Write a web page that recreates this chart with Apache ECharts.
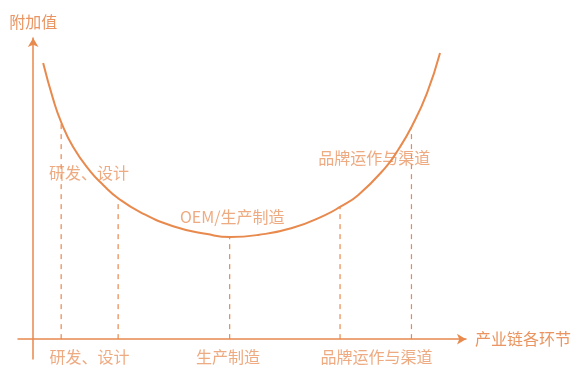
<!DOCTYPE html>
<html>
<head>
<meta charset="utf-8">
<script src="https://cdn.jsdelivr.net/npm/echarts@6/dist/echarts.min.js"></script>
<style>
  html, body { margin: 0; padding: 0; background: #ffffff; }
  #chart { width: 574px; height: 369px; }
</style>
</head>
<body>
<div id="chart"></div>
<script>
// Smile curve: value added along the industry chain
const curveX = [2.31, 4.62, 6.47, 9.24, 13.16, 16.17, 19.63, 24.71, 32.33, 40.18, 45.50, 51.96, 59.82, 67.44, 70.90, 75.06, 81.29, 84.30, 87.53, 90.99, 94.00];
const curveY = [91.7, 79.7, 72.1, 63.8, 55.8, 51.2, 46.8, 42.2, 37.5, 34.9, 33.9, 34.6, 36.9, 41.2, 43.9, 47.8, 56.8, 62.8, 70.8, 81.7, 95.0];

// Dashed guide lines dropping from the curve to the chain axis
const guideX = [6.47, 19.63, 45.4, 70.9, 87.4];
const guideTop = [72.1, 46.8, 33.9, 43.9, 70.4];

// Stage names under the axis
const stageNames = ['研发、设计', '生产制造', '品牌运作与渠道'];
const stageX = [13.0, 45.0, 79.3];
const stageY = -6.0;

// Labels beside the curve
const curveLabels = ['研发、设计', 'OEM/生产制造', '品牌运作与渠道'];
const curveLabelX = [12.9, 46.0, 78.8];
const curveLabelY = [55.1, 40.5, 60.1];

const axisName = { x: '产业链各环节', y: '附加值' };

const LINE = '#E8894D';
const TEXT = '#EA9561';
const FONT = '"Noto Sans CJK SC", "Noto Sans", sans-serif';

const series = [];

series.push({
  type: 'line',
  data: curveX.map((x, i) => [x, curveY[i]]),
  smooth: 0.5,
  showSymbol: false,
  silent: true,
  lineStyle: { color: LINE, width: 2 },
  z: 3
});

guideX.forEach((x, i) => {
  series.push({
    type: 'line',
    data: [[x, 0], [x, guideTop[i]]],
    showSymbol: false,
    silent: true,
    lineStyle: { color: LINE, width: 1.2, type: [5, 5] },
    z: 2
  });
});

series.push({
  type: 'scatter',
  symbolSize: 0,
  silent: true,
  data: stageNames.map((n, i) => ({ value: [stageX[i], stageY], name: n })),
  label: {
    show: true, position: 'inside', formatter: p => p.name,
    color: TEXT, fontSize: 16, fontFamily: FONT
  }
});

series.push({
  type: 'scatter',
  symbolSize: 0,
  silent: true,
  data: curveLabels.map((n, i) => ({ value: [curveLabelX[i], curveLabelY[i]], name: n })),
  label: {
    show: true, position: 'inside', formatter: p => p.name,
    color: TEXT, fontSize: 16, fontFamily: FONT
  }
});

const chart = echarts.init(document.getElementById('chart'), null, { renderer: 'canvas' });
chart.setOption({
  animation: false,
  backgroundColor: '#ffffff',
  grid: { left: 18, right: 108, top: 38, bottom: 10, containLabel: false },
  xAxis: {
    type: 'value', min: -3.5, max: 100,
    name: axisName.x, nameLocation: 'end', nameGap: 9,
    nameTextStyle: { color: TEXT, fontSize: 16, fontFamily: FONT },
    axisLine: { show: true, onZero: true, symbol: ['none', 'arrow'], symbolSize: [8, 9], lineStyle: { color: LINE, width: 1.5 } },
    axisTick: { show: false }, axisLabel: { show: false }, splitLine: { show: false }
  },
  yAxis: {
    type: 'value', min: -6.6, max: 100,
    name: axisName.y, nameLocation: 'end', nameGap: 8,
    nameTextStyle: { color: TEXT, fontSize: 16, fontFamily: FONT, align: 'center' },
    axisLine: { show: true, onZero: true, symbol: ['none', 'arrow'], symbolSize: [8, 9], lineStyle: { color: LINE, width: 1.5 } },
    axisTick: { show: false }, axisLabel: { show: false }, splitLine: { show: false }
  },
  series: series
});
</script>
</body>
</html>
